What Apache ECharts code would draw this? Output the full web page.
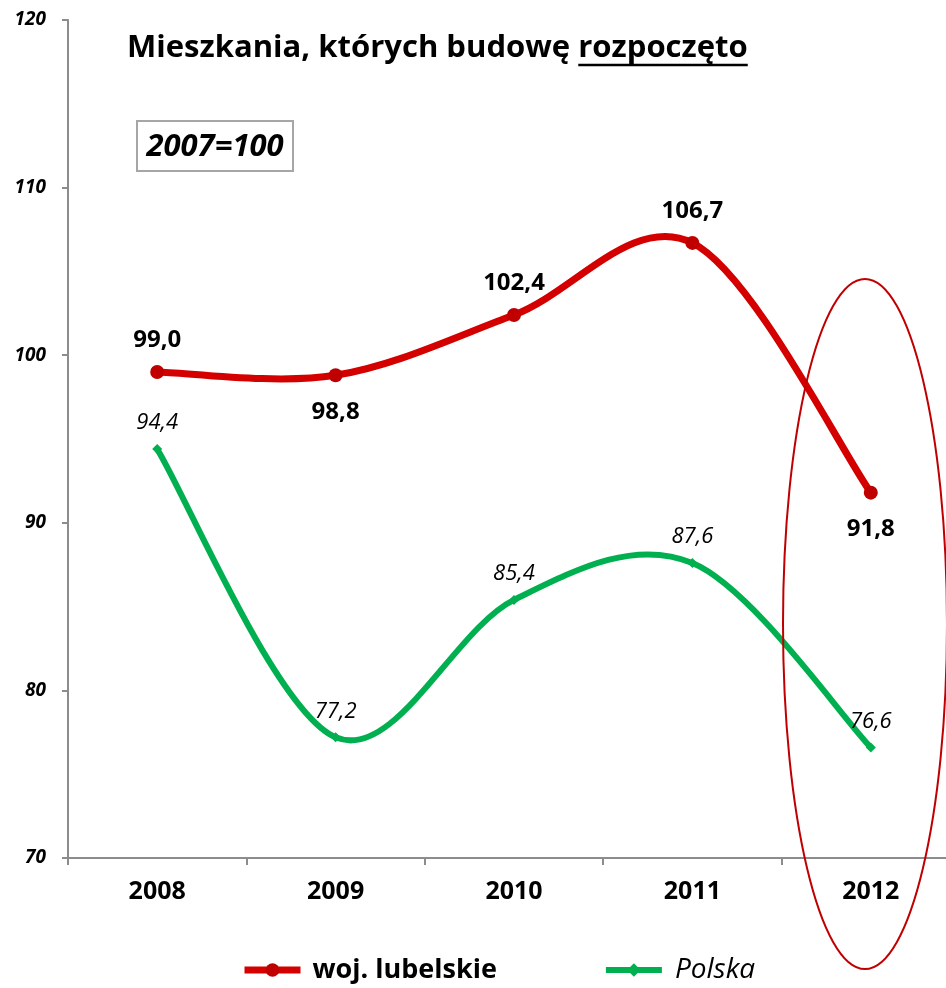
<!DOCTYPE html>
<html>
<head>
<meta charset="utf-8">
<script src="https://cdn.jsdelivr.net/npm/echarts@6/dist/echarts.min.js"></script>
<style>
  html, body { margin: 0; padding: 0; background: #fff; overflow: hidden; }
  #chart { width: 960px; height: 988px; }
</style>
</head>
<body>
<div id="chart"></div>
<script>
// Indices of dwellings started (2007 = 100)
const years = ['2008', '2009', '2010', '2011', '2012'];
const lubelskie = [99.0, 98.8, 102.4, 106.7, 91.8];
const polska = [94.4, 77.2, 85.4, 87.6, 76.6];
const lubelskieLabelPos = ['top', 'bottom', 'top', 'top', 'bottom'];
const yTicks = [70, 80, 90, 100, 110, 120];

const FONT = "'Open Sans', 'Noto Sans', sans-serif";
const RED_LINE = '#d40000', RED_DOT = '#c00000', GREEN = '#00b050';
const fmt = v => v.toFixed(1).replace('.', ',');

const chart = echarts.init(document.getElementById('chart'));

// Fit the title to its span and measure the last word for the underline
const ctx = document.createElement('canvas').getContext('2d');
const titleA = 'Mieszkania, których budowę ';
const titleB = 'rozpoczęto';
const titleLeft = 127, titleRight = 748;
ctx.font = 'bold 20px ' + FONT;
const titleSize = 20 * (titleRight - titleLeft) / ctx.measureText(titleA + titleB).width;
const titleFont = 'bold ' + titleSize.toFixed(2) + 'px ' + FONT;
ctx.font = titleFont;
const wA = ctx.measureText(titleA).width;
const wB = ctx.measureText(titleB).width;

// Catmull-Rom style smoothed path through the series points (in pixel space)
function smoothPath(values, color, width) {
  return function (params, api) {
    const pts = values.map((v, i) => api.coord([i, v]));
    const n = pts.length;
    const P = i => pts[Math.max(0, Math.min(n - 1, i))];
    let d = 'M' + pts[0][0] + ',' + pts[0][1];
    for (let i = 0; i < n - 1; i++) {
      const p0 = P(i - 1), p1 = P(i), p2 = P(i + 1), p3 = P(i + 2);
      const c1x = p1[0] + (p2[0] - p0[0]) / 6, c1y = p1[1] + (p2[1] - p0[1]) / 6;
      const c2x = p2[0] - (p3[0] - p1[0]) / 6, c2y = p2[1] - (p3[1] - p1[1]) / 6;
      d += ' C' + c1x + ',' + c1y + ' ' + c2x + ',' + c2y + ' ' + p2[0] + ',' + p2[1];
    }
    return {
      type: 'path',
      shape: { pathData: d },
      style: { fill: 'none', stroke: color, lineWidth: width, lineCap: 'round', lineJoin: 'round' }
    };
  };
}

chart.setOption({
  animation: false,
  backgroundColor: '#fff',
  grid: { left: 68, top: 20, right: 0, bottom: 130, containLabel: false },
  xAxis: {
    type: 'category',
    data: years,
    boundaryGap: true,
    axisLine: { lineStyle: { color: '#8c8c8c', width: 2 } },
    axisTick: { show: true, length: 7, lineStyle: { color: '#8c8c8c', width: 2 } },
    axisLabel: { color: '#000', fontFamily: FONT, fontWeight: 'bold', fontSize: 25, margin: 21 },
    splitLine: { show: false }
  },
  yAxis: {
    type: 'value',
    min: yTicks[0],
    max: yTicks[yTicks.length - 1],
    interval: 10,
    axisLine: { show: true, lineStyle: { color: '#8c8c8c', width: 2 } },
    axisTick: { show: true, length: 6, lineStyle: { color: '#8c8c8c', width: 2 } },
    axisLabel: { color: '#000', fontFamily: FONT, fontWeight: 'bold', fontStyle: 'italic', fontSize: 19, margin: 22 },
    splitLine: { show: false }
  },
  legend: {
    bottom: -1,
    left: 236,
    itemWidth: 56,
    itemHeight: 17,
    itemGap: 106,
    data: [
      {
        name: 'woj. lubelskie',
        lineStyle: { width: 7, color: RED_LINE, opacity: 1 },
        textStyle: { fontWeight: 'bold', fontSize: 27, fontFamily: FONT, color: '#000', padding: [0, 0, 0, 7] }
      },
      {
        name: 'Polska',
        lineStyle: { width: 6, color: GREEN, opacity: 1 },
        textStyle: { fontStyle: 'italic', fontSize: 28, fontFamily: FONT, color: '#000', padding: [0, 0, 0, 8] }
      }
    ]
  },
  series: [
    {
      name: 'woj. lubelskie',
      type: 'line',
      data: lubelskie.map((v, i) => ({
        value: v,
        label: { position: lubelskieLabelPos[i], distance: lubelskieLabelPos[i] === 'top' ? 13 : 18 }
      })),
      symbol: 'circle',
      symbolSize: 14,
      lineStyle: { color: RED_LINE, width: 7, opacity: 0 },
      itemStyle: { color: RED_DOT },
      label: {
        show: true,
        formatter: p => fmt(p.value),
        color: '#000',
        fontFamily: FONT,
        fontWeight: 'bold',
        fontSize: 24
      },
      z: 4
    },
    {
      name: 'Polska',
      type: 'line',
      data: polska,
      symbol: 'diamond',
      symbolSize: 10,
      lineStyle: { color: GREEN, width: 6, opacity: 0 },
      itemStyle: { color: GREEN },
      label: {
        show: true,
        position: 'top',
        formatter: p => fmt(p.value),
        color: '#000',
        fontFamily: FONT,
        fontStyle: 'italic',
        fontSize: 22,
        distance: 10
      },
      z: 2
    },
    {
      name: 'woj. lubelskie line',
      type: 'custom',
      coordinateSystem: 'cartesian2d',
      data: [0],
      renderItem: smoothPath(lubelskie, RED_LINE, 7),
      silent: true,
      z: 3
    },
    {
      name: 'Polska line',
      type: 'custom',
      coordinateSystem: 'cartesian2d',
      data: [0],
      renderItem: smoothPath(polska, GREEN, 6),
      silent: true,
      z: 1
    }
  ],
  graphic: [
    {
      type: 'text',
      left: titleLeft,
      top: 33,
      style: { text: titleA, font: titleFont, fill: '#000' }
    },
    {
      type: 'text',
      left: titleLeft + wA,
      top: 33,
      style: { text: titleB, font: titleFont, fill: '#000' }
    },
    {
      type: 'line',
      shape: { x1: titleLeft + wA, y1: 65, x2: titleLeft + wA + wB, y2: 65 },
      style: { stroke: '#000', lineWidth: 2.5 }
    },
    {
      type: 'rect',
      shape: { x: 137, y: 121, width: 156, height: 50 },
      style: { fill: '#fff', stroke: '#a6a6a6', lineWidth: 2 }
    },
    {
      type: 'text',
      x: 215,
      y: 147,
      style: {
        text: '2007=100',
        font: 'italic bold 31px ' + FONT,
        fill: '#000',
        align: 'center',
        verticalAlign: 'middle'
      }
    },
    {
      type: 'ellipse',
      shape: { cx: 865, cy: 624, rx: 82, ry: 345 },
      style: { fill: 'none', stroke: '#c00000', lineWidth: 2 },
      z: 10
    }
  ]
});
</script>
</body>
</html>
